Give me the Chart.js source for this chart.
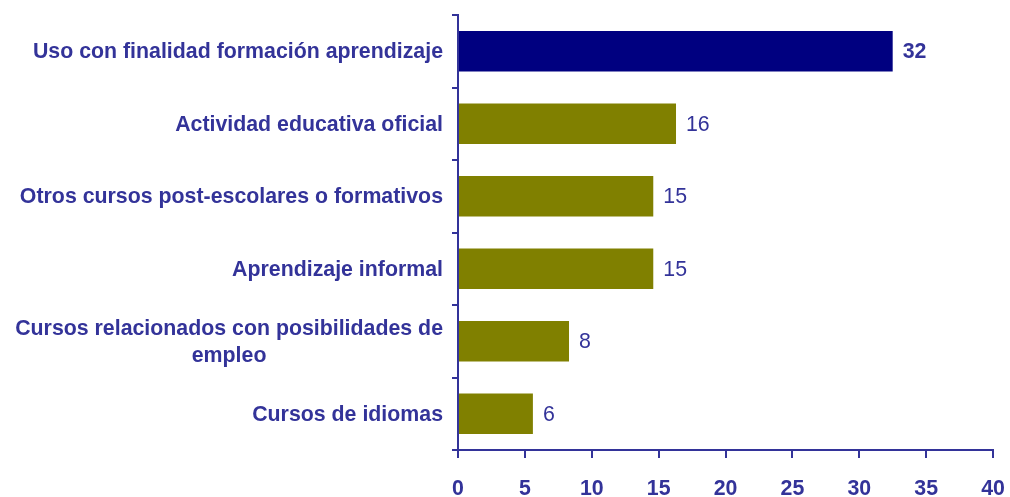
<!DOCTYPE html>
<html>
<head>
<meta charset="utf-8">
<script src="https://cdn.jsdelivr.net/npm/chart.js@4"></script>
<style>
  html, body { margin: 0; padding: 0; background: #fff; }
  #wrap { width: 1010px; height: 497px; }
</style>
</head>
<body>
<div id="wrap"><canvas id="chart" width="1010" height="497"></canvas></div>
<script>
const categories = [
  "Uso con finalidad formación aprendizaje",
  "Actividad educativa oficial",
  "Otros cursos post-escolares o formativos",
  "Aprendizaje informal",
  ["Cursos relacionados con posibilidades de", "empleo"],
  "Cursos de idiomas"
];
const values = [32.5, 16.3, 14.6, 14.6, 8.3, 5.6];
const valueLabels = ["32", "16", "15", "15", "8", "6"];
const barColors = ["#000080", "#808000", "#808000", "#808000", "#808000", "#808000"];
const xTicks = [0, 5, 10, 15, 20, 25, 30, 35, 40];

const AXIS = "#333399";
const FONT = "'Liberation Sans', Arial, sans-serif";
const SIZE = 21.33;

// y labels drawn centred as a block, right edge next to the axis
const categoryLabels = {
  id: "categoryLabels",
  afterDraw(chart) {
    const ctx = chart.ctx;
    const y = chart.scales.y;
    const right = chart.chartArea.left - 15;
    ctx.save();
    ctx.fillStyle = AXIS;
    ctx.font = "bold " + SIZE + "px " + FONT;
    ctx.textAlign = "center";
    ctx.textBaseline = "middle";
    categories.forEach((lab, i) => {
      const lines = Array.isArray(lab) ? lab : [lab];
      const w = Math.max(...lines.map(l => ctx.measureText(l).width));
      const cx = right - w / 2;
      const lh = 27;
      const cy = y.getPixelForValue(i) + 1;
      lines.forEach((l, j) => {
        ctx.fillText(l, cx, cy + (j - (lines.length - 1) / 2) * lh);
      });
    });
    ctx.restore();
  }
};

const barValues = {
  id: "barValues",
  afterDatasetsDraw(chart) {
    const ctx = chart.ctx;
    const meta = chart.getDatasetMeta(0);
    ctx.save();
    ctx.fillStyle = AXIS;
    ctx.textAlign = "left";
    ctx.textBaseline = "middle";
    meta.data.forEach((bar, i) => {
      ctx.font = (i === 0 ? "bold " : "") + SIZE + "px " + FONT;
      ctx.fillText(valueLabels[i], bar.x + 10, bar.y + 1);
    });
    ctx.restore();
  }
};

new Chart(document.getElementById("chart"), {
  type: "bar",
  data: {
    labels: categories,
    datasets: [{
      data: values,
      backgroundColor: barColors,
      borderWidth: 0,
      barPercentage: 0.56,
      categoryPercentage: 1
    }]
  },
  options: {
    indexAxis: "y",
    responsive: false,
    animation: false,
    layout: { padding: { top: 15, right: 17, left: 0, bottom: 0 } },
    plugins: {
      legend: { display: false },
      tooltip: { enabled: false }
    },
    scales: {
      x: {
        min: 0,
        max: 40,
        afterBuildTicks(axis) { axis.ticks = xTicks.map(v => ({ value: v })); },
        afterFit(axis) {
          axis.height = 47;
          axis.paddingLeft = 0;
          axis.paddingRight = 0;
        },
        border: { color: AXIS, width: 2 },
        grid: { drawOnChartArea: false, drawTicks: true, tickLength: 8, color: AXIS, lineWidth: 2 },
        ticks: {
          color: AXIS,
          font: { family: FONT, size: SIZE, weight: "bold" },
          padding: 18,
          maxRotation: 0
        }
      },
      y: {
        afterFit(axis) { axis.width = 458; },
        border: { color: AXIS, width: 2 },
        grid: { offset: true, drawOnChartArea: false, drawTicks: true, tickLength: 6, color: AXIS, lineWidth: 2 },
        ticks: { color: "transparent", font: { size: 1 } }
      }
    }
  },
  plugins: [categoryLabels, barValues]
});
</script>
</body>
</html>
